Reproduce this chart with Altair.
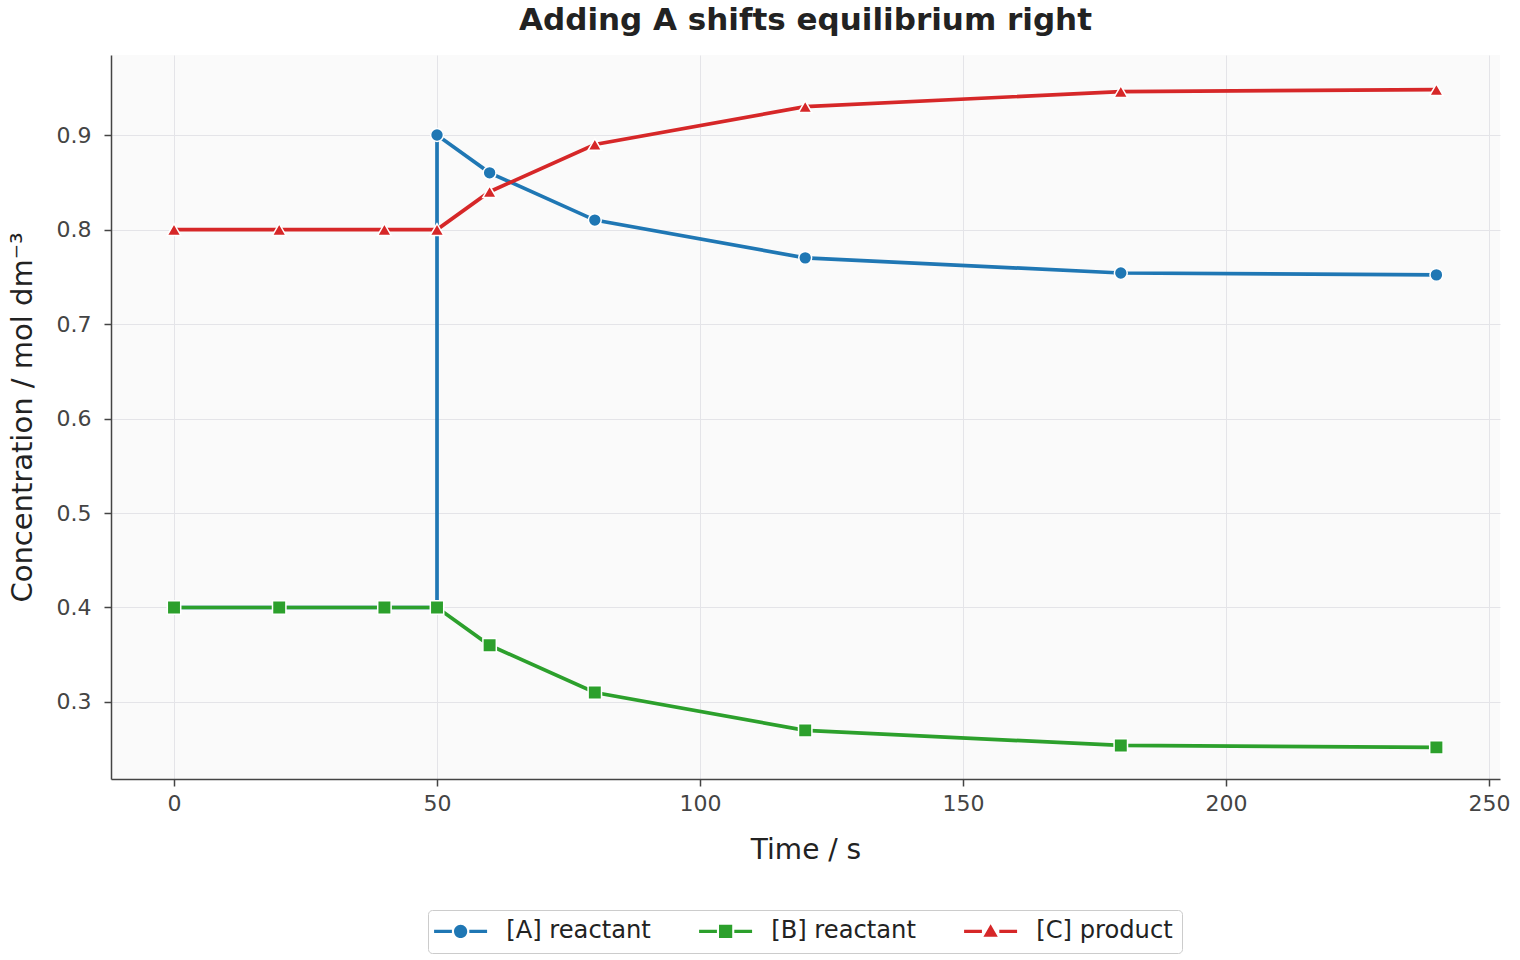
import altair as alt
import pandas as pd

series_names = ["[A] reactant", "[B] reactant", "[C] product"]
colors = ["#1f77b4", "#2ca02c", "#d62728"]
marker_shapes = ["circle", "square", "triangle-up"]

time_A = [0, 20, 40, 50, 50, 60, 80, 120, 180, 240]
conc_A = [0.40, 0.40, 0.40, 0.40, 0.90, 0.86, 0.81, 0.77, 0.754, 0.752]
time_B = [0, 20, 40, 50, 60, 80, 120, 180, 240]
conc_B = [0.40, 0.40, 0.40, 0.40, 0.36, 0.31, 0.27, 0.254, 0.252]
time_C = [0, 20, 40, 50, 60, 80, 120, 180, 240]
conc_C = [0.80, 0.80, 0.80, 0.80, 0.84, 0.89, 0.93, 0.946, 0.948]

x_ticks = [0, 50, 100, 150, 200, 250]
y_ticks = [0.3, 0.4, 0.5, 0.6, 0.7, 0.8, 0.9]

# legend glyphs: line segment with the marker in the middle
_seg = "M-2.5,-0.27 L0.47,-0.27 L0.47,0.27 L-2.5,0.27 Z M3.37,-0.27 L6.33,-0.27 L6.33,0.27 L3.37,0.27 Z "
legend_paths = [
    _seg + "M3.02,0 A1.1,1.1 0 1,1 0.82,0 A1.1,1.1 0 1,1 3.02,0 Z",
    _seg + "M0.82,-1.1 L3.02,-1.1 L3.02,1.1 L0.82,1.1 Z",
    _seg + "M1.92,-1.2 L3.12,0.9 L0.72,0.9 Z",
]

rows = []
for name, ts, cs in zip(series_names, [time_A, time_B, time_C], [conc_A, conc_B, conc_C]):
    for i, (t, c) in enumerate(zip(ts, cs)):
        rows.append({"series": name, "t": t, "c": c, "i": i})
df = pd.DataFrame(rows)

W, H = 1389, 724

color_scale = alt.Scale(domain=series_names, range=colors)
legend_def = alt.Legend(
    title=None,
    orient="none",
    legendX=317,
    legendY=855,
    direction="horizontal",
    padding=9,
    strokeColor="#cccccc",
    fillColor="#ffffff",
    cornerRadius=4,
    labelFontSize=24.2,
    labelColor="#222222",
    labelFont="DejaVu Sans",
    symbolSize=144,
    symbolStrokeWidth=0,
    labelOffset=45,
    columnPadding=48,
)

x_enc = alt.X(
    "t:Q",
    scale=alt.Scale(domain=[-11.98, 252.09], nice=False, zero=False),
    axis=alt.Axis(
        values=x_ticks,
        format="d",
        title="Time / s",
        titleX=W / 2,
        titleY=71,
        titleBaseline="middle",
        titleAlign="center",
        labelPadding=7,
    ),
)
y_enc = alt.Y(
    "c:Q",
    scale=alt.Scale(domain=[0.2185, 0.9847], nice=False, zero=False),
    axis=alt.Axis(
        values=y_ticks,
        format=".1f",
        title="Concentration / mol dm⁻³",
        titleX=-89,
        titleY=H / 2,
        titleBaseline="middle",
        titleAlign="center",
        titleAngle=270,
        titleFontSize=29,
        labelPadding=13,
    ),
)

base = alt.Chart(df)

legend_layer = (
    base.transform_filter("false")
    .mark_point(filled=True, opacity=1)
    .encode(
        x=x_enc,
        y=y_enc,
        color=alt.Color("series:N", scale=color_scale, legend=legend_def),
        shape=alt.Shape(
            "series:N",
            scale=alt.Scale(domain=series_names, range=legend_paths),
            legend=legend_def,
        ),
    )
)

layers = [legend_layer]
for name, shp, sz in zip(series_names, marker_shapes, [165, 180, 185]):
    sub = base.transform_filter(alt.datum.series == name)
    line = sub.mark_line(strokeWidth=3.7).encode(
        x=x_enc,
        y=y_enc,
        order=alt.Order("i:Q"),
        color=alt.Color("series:N", scale=color_scale, legend=legend_def),
    )
    pts = sub.mark_point(
        filled=True, shape=shp, size=sz, stroke="white", strokeWidth=1.5, opacity=1
    ).encode(
        x=x_enc,
        y=y_enc,
        color=alt.Color("series:N", scale=color_scale, legend=legend_def),
    )
    layers += [line, pts]

chart = (
    alt.layer(*layers)
    .properties(
        width=W,
        height=H,
        autosize=alt.AutoSizeParams(type="none"),
        padding={"left": 111, "top": 55, "right": 20, "bottom": 181},
        title=alt.TitleParams(
            "Adding A shifts equilibrium right",
            fontSize=31,
            fontWeight="bold",
            color="#222222",
            anchor="middle",
            font="DejaVu Sans",
            offset=18,
        ),
    )
    .configure(font="DejaVu Sans", background="#ffffff")
    .configure_view(fill="#fafafa", stroke=None)
    .configure_axis(
        labelFontSize=22,
        labelColor="#444444",
        labelFont="DejaVu Sans",
        titleFontSize=28,
        titleFontWeight="normal",
        titleColor="#222222",
        titleFont="DejaVu Sans",
        domainColor="#444444",
        domainWidth=1.5,
        tickColor="#444444",
        tickWidth=1.5,
        tickSize=7,
        gridColor="#e4e4e8",
        gridWidth=1,
    )
)

chart.save("out.html", embed_options={"renderer": "svg", "actions": False})
